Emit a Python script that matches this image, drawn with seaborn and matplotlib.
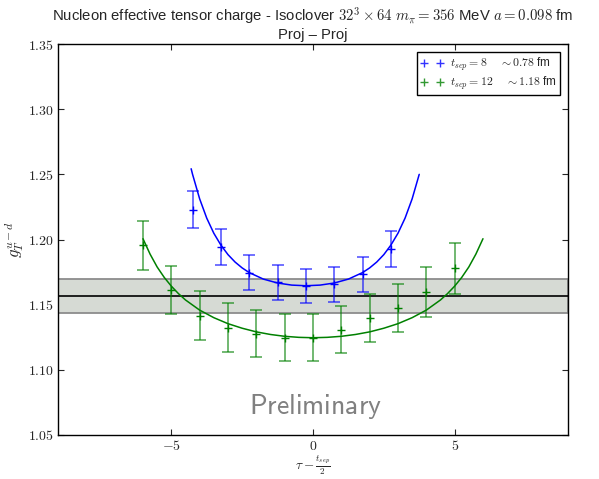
import matplotlib
matplotlib.use("Agg")
import matplotlib.pyplot as plt
import seaborn as sns
from matplotlib.ticker import FuncFormatter, FixedLocator
from matplotlib.lines import Line2D

# t_sep = 8 data (plotted shifted by -0.25)
tau_8 = [-4.25, -3.25, -2.25, -1.25, -0.25, 0.75, 1.75, 2.75]
gT_8 = [1.2230, 1.1944, 1.1746, 1.1670, 1.1644, 1.1657, 1.1733, 1.1929]
err_8 = [0.0140, 0.0136, 0.0135, 0.0131, 0.0131, 0.0133, 0.0135, 0.0140]

# t_sep = 12 data
tau_12 = [-6, -5, -4, -3, -2, -1, 0, 1, 2, 3, 4, 5]
gT_12 = [1.1956, 1.1614, 1.1416, 1.1322, 1.1278, 1.1246, 1.1246, 1.1309,
         1.1396, 1.1474, 1.1594, 1.1779]
err_12 = [0.0188, 0.0183, 0.0185, 0.0187, 0.0182, 0.0179, 0.0182, 0.0180,
          0.0184, 0.0185, 0.0192, 0.0195]

# fit curves
fit_x_8 = [-4.3, -4.25, -4.0, -3.75, -3.5, -3.25, -3.0, -2.75, -2.5, -2.25,
           -1.75, -1.25, -0.75, -0.25, 0.25, 0.75, 1.25, 1.75, 2.0, 2.25,
           2.5, 2.75, 3.0, 3.25, 3.5, 3.75]
fit_y_8 = [1.2543, 1.2500, 1.2312, 1.2164, 1.2048, 1.1957, 1.1884, 1.1827,
           1.1782, 1.1746, 1.1696, 1.1666, 1.1650, 1.1645, 1.1650, 1.1666,
           1.1696, 1.1746, 1.1782, 1.1827, 1.1884, 1.1957, 1.2048, 1.2164,
           1.2312, 1.2500]

fit_x_12 = [-6.0, -5.75, -5.5, -5.25, -5.0, -4.75, -4.5, -4.0, -3.5, -3.0,
            -2.5, -2.0, -1.5, -1.0, -0.5, 0.0, 0.5, 1.0, 1.5, 2.0, 2.5,
            3.0, 3.5, 4.0, 4.5, 4.75, 5.0, 5.25, 5.5, 5.75, 6.0]
fit_y_12 = [1.2006, 1.1888, 1.1789, 1.1709, 1.1642, 1.1585, 1.1536, 1.1458,
            1.1400, 1.1354, 1.1319, 1.1291, 1.1271, 1.1257, 1.1249, 1.1246,
            1.1249, 1.1257, 1.1271, 1.1291, 1.1319, 1.1354, 1.1400, 1.1458,
            1.1536, 1.1585, 1.1642, 1.1709, 1.1789, 1.1888, 1.2006]

# final estimate band
band_mid = 1.1565
band_lo = 1.1433
band_hi = 1.1695

labels = [r"$t_{sep} = 8$    $\sim 0.78$ fm", r"$t_{sep} = 12$    $\sim 1.18$ fm"]

sns.set_style("ticks")
plt.rcParams.update({
    "font.family": ["Liberation Sans", "DejaVu Sans"],
    "mathtext.fontset": "cm",
    "xtick.direction": "in",
    "ytick.direction": "in",
    "xtick.top": True,
    "ytick.right": True,
    "xtick.major.size": 4,
    "ytick.major.size": 4,
    "axes.edgecolor": "black",
    "axes.linewidth": 1.0,
})

fig = plt.figure(figsize=(5.99, 4.79), dpi=100)
ax = fig.add_axes([0.0968, 0.092, 0.8514, 0.816])

ax.axhspan(band_lo, band_hi, facecolor="#d6dad4", edgecolor="#8c8c8c", linewidth=1.3, zorder=1)
ax.axhline(band_mid, color="black", linewidth=1.2, zorder=2)

sns.lineplot(x=fit_x_8, y=fit_y_8, color="blue", linewidth=1.1, ax=ax, zorder=3)
sns.lineplot(x=fit_x_12, y=fit_y_12, color="green", linewidth=1.1, ax=ax, zorder=3)

for x, y, e, c in [(tau_8, gT_8, err_8, "blue"), (tau_12, gT_12, err_12, "green")]:
    ax.errorbar(x, y, yerr=e, fmt="none", ecolor=c, alpha=0.6, capsize=4,
                elinewidth=1.3, capthick=1.3, zorder=4)
    ax.plot(x, y, "+", color=c, markersize=6, markeredgewidth=1.0, zorder=5)

ax.text(0.1, 1.066, r"$\mathsf{Preliminary}$", fontsize=20, color="#808080",
        ha="center", va="baseline")

ax.set_xlim(-9, 9)
ax.set_ylim(1.05, 1.35)
ax.xaxis.set_major_locator(FixedLocator([-5, 0, 5]))
ax.yaxis.set_major_locator(FixedLocator([1.05, 1.10, 1.15, 1.20, 1.25, 1.30, 1.35]))
ax.xaxis.set_major_formatter(FuncFormatter(lambda v, p: f"${v:g}$"))
ax.yaxis.set_major_formatter(FuncFormatter(lambda v, p: f"${v:.2f}$"))
ax.tick_params(labelsize=10, pad=3)

ax.set_xlabel(r"$\tau - \frac{t_{sep}}{2}$", fontsize=9.5)
ax.xaxis.set_label_coords(0.5, -0.047)
ax.xaxis.label.set_va("top")
ax.set_ylabel(r"$g_T^{u-d}$", fontsize=12)
ax.yaxis.set_label_coords(-0.062, 0.5)
ax.set_title("Nucleon effective tensor charge - Isoclover $32^3 \\times 64$ "
             "$m_\\pi = 356$ MeV $a = 0.098$ fm\nProj \u2013 Proj", fontsize=10.7,
             linespacing=1.1, pad=4)

handles = [Line2D([], [], color="blue", marker="+", linestyle="none", markersize=6, alpha=0.8),
           Line2D([], [], color="green", marker="+", linestyle="none", markersize=6, alpha=0.8)]
leg = ax.legend(handles, labels, loc="upper right", numpoints=2, fontsize=8.5,
                fancybox=False, framealpha=1, edgecolor="black",
                labelspacing=0.15, borderpad=0.25, borderaxespad=0.7,
                handletextpad=0.5)
leg.get_frame().set_linewidth(1.0)

fig.savefig("out.png", dpi=100)
